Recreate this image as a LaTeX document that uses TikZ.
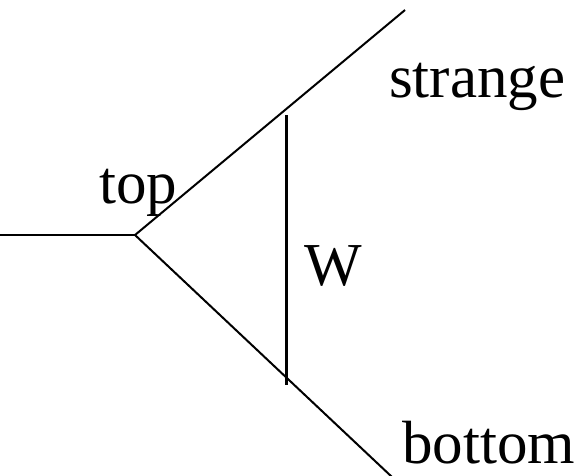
\documentclass[tikz,border=0pt]{standalone}
\usepackage{fontspec}
\setmainfont{Liberation Serif}
\begin{document}
\begin{tikzpicture}[x=1pt,y=-1pt,
  line/.style={draw=black,line width=2pt},
  wline/.style={draw=black,line width=3pt},
  lbl/.style={anchor=base west,inner sep=0pt,font=\fontsize{61}{61}\selectfont}]
\useasboundingbox (0,0) rectangle (588,475);
\coordinate (in) at (0,235);
\coordinate (v) at (135,235);
\coordinate (s) at (405,10);
\coordinate (b) at (392,477);
\coordinate (wt) at (286,115);
\coordinate (wb) at (286,385);
\draw[line] (in) -- (v);
\draw[line] (v) -- (s);
\draw[line] (v) -- (b);
\draw[wline] (wt) -- (wb);
\node[lbl] (strange) at (389,97) {strange};
\node[lbl] (top) at (99,203) {top};
\node[lbl] (W) at (304,285) {W};
\node[lbl] (bottom) at (402,463) {bottom};
\end{tikzpicture}
\end{document}
